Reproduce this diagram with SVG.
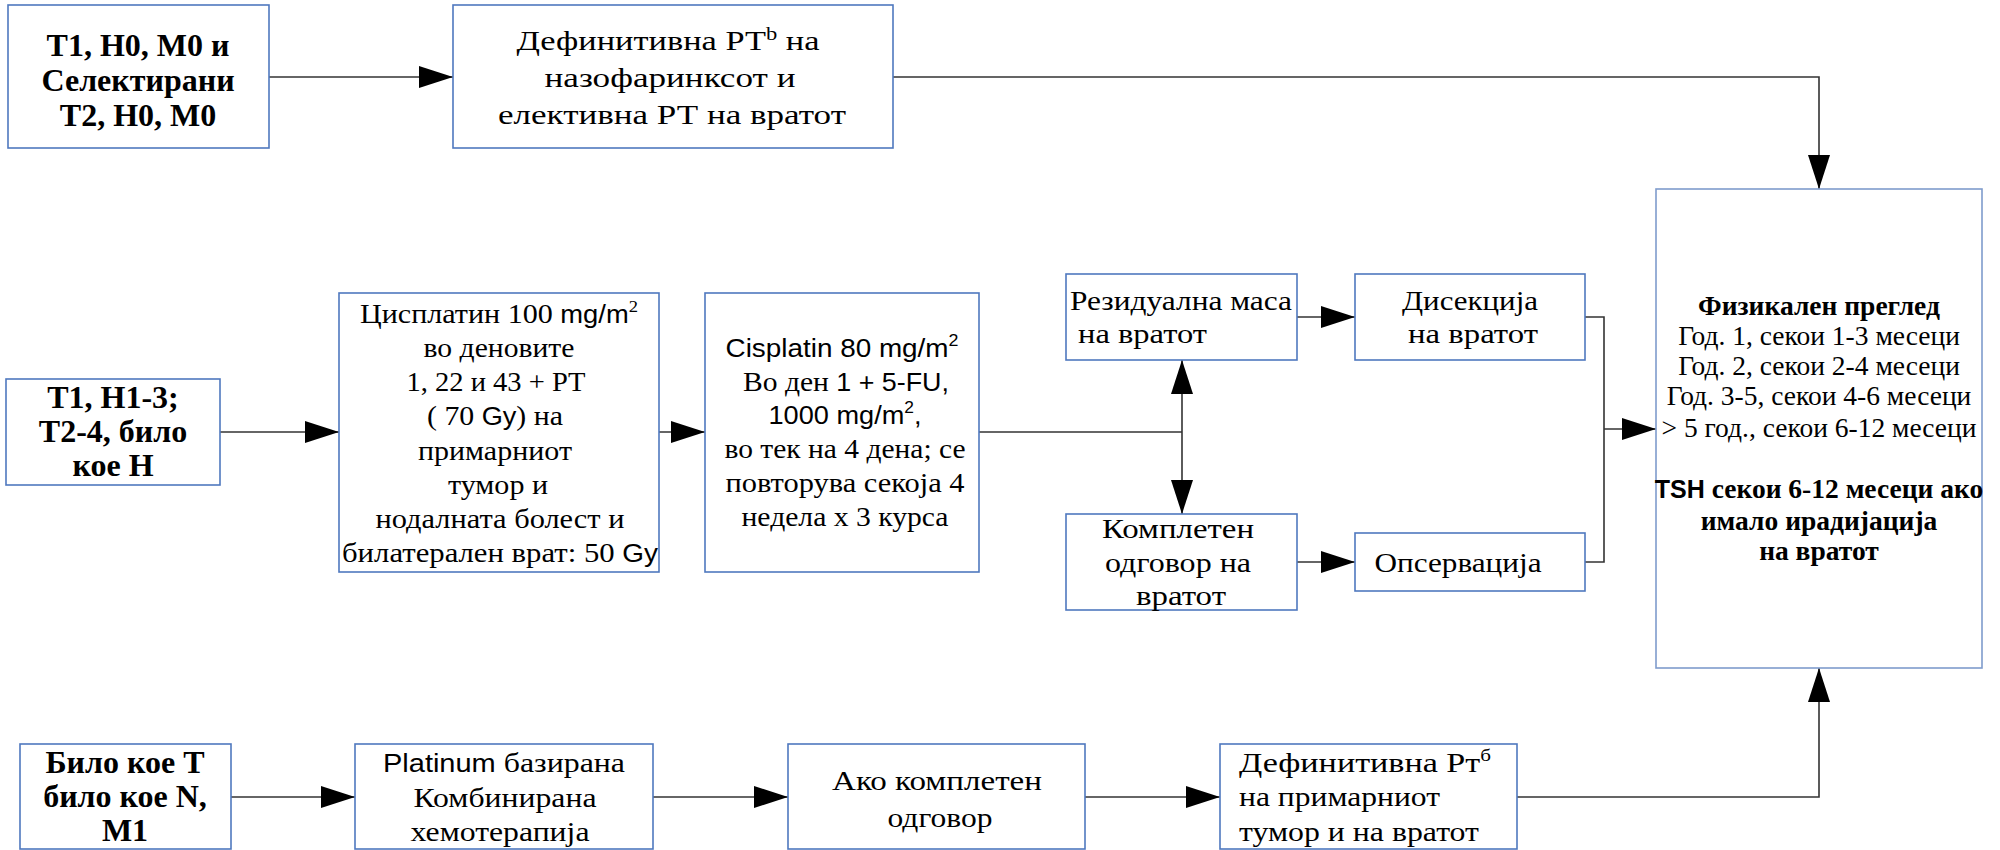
<svg xmlns="http://www.w3.org/2000/svg" width="2000" height="850" viewBox="0 0 2000 850">
<style>
.box{fill:#fff;stroke:#4f78bf;stroke-width:1.6}
.big{fill:#fff;stroke:#7f9ccc;stroke-width:1.6}
.ln{fill:none;stroke:#333;stroke-width:1.6}
text{fill:#000}
.c{text-anchor:middle}
.b{font-family:"Liberation Serif",serif;font-weight:bold;font-size:32px}
.s{font-family:"Liberation Sans",sans-serif;font-size:25px}
.m{font-family:"Liberation Serif",serif;font-size:27.5px}
</style>
<defs>
<marker id="ah" markerUnits="userSpaceOnUse" markerWidth="34" markerHeight="22" refX="34" refY="11" orient="auto">
<path d="M0,0 L34,11 L0,22 z" fill="#000"/>
</marker>
</defs>

<g id="connectors">
<path class="ln" d="M269,77 H453" marker-end="url(#ah)"/>
<path class="ln" d="M893,77 H1819 V189" marker-end="url(#ah)"/>
<path class="ln" d="M220,432 H339" marker-end="url(#ah)"/>
<path class="ln" d="M659,432 H705" marker-end="url(#ah)"/>
<path class="ln" d="M979,432 H1182"/>
<path class="ln" d="M1182,432 V360" marker-end="url(#ah)"/>
<path class="ln" d="M1182,432 V514" marker-end="url(#ah)"/>
<path class="ln" d="M1297,317 H1355" marker-end="url(#ah)"/>
<path class="ln" d="M1297,562 H1355" marker-end="url(#ah)"/>
<path class="ln" d="M1585,317 H1604 V562 H1585"/>
<path class="ln" d="M1604,429 H1656" marker-end="url(#ah)"/>
<path class="ln" d="M231,797 H355" marker-end="url(#ah)"/>
<path class="ln" d="M653,797 H788" marker-end="url(#ah)"/>
<path class="ln" d="M1085,797 H1220" marker-end="url(#ah)"/>
<path class="ln" d="M1517,797 H1819 V668" marker-end="url(#ah)"/>
</g>

<g id="n1">
<rect class="box" x="8" y="5" width="261" height="143"/>
<text class="c b" x="138" y="56">T1, H0, M0 и</text>
<text class="c b" x="138" y="91">Селектирани</text>
<text class="c b" x="138" y="126">T2, H0, M0</text>
</g>

<g id="n2">
<rect class="box" x="453" y="5" width="440" height="143"/>
<text class="c m" x="668" y="50" textLength="303" lengthAdjust="spacingAndGlyphs">Дефинитивна РТ<tspan font-size="18" dy="-10">b</tspan><tspan dy="10"> на</tspan></text>
<text class="c m" x="670" y="87" textLength="251" lengthAdjust="spacingAndGlyphs">назофаринксот и</text>
<text class="c m" x="672" y="124" textLength="348" lengthAdjust="spacingAndGlyphs">елективна РТ на вратот</text>
</g>

<g id="n3">
<rect class="box" x="6" y="379" width="214" height="106"/>
<text class="c b" x="113" y="408">T1, H1-3;</text>
<text class="c b" x="113" y="442">T2-4, било</text>
<text class="c b" x="113" y="476">кое H</text>
</g>

<g id="n4">
<rect class="box" x="339" y="293" width="320" height="279"/>
<text class="c m" x="499" y="323" textLength="278" lengthAdjust="spacingAndGlyphs">Цисплатин 100 <tspan class="s">mg/m</tspan><tspan font-size="17" dy="-11">2</tspan></text>
<text class="c m" x="499" y="357" textLength="151" lengthAdjust="spacingAndGlyphs">во деновите</text>
<text class="c m" x="496" y="391" textLength="179" lengthAdjust="spacingAndGlyphs">1, 22 и 43 + РТ</text>
<text class="c m" x="495" y="425" textLength="136" lengthAdjust="spacingAndGlyphs">( 70 <tspan class="s">Gy</tspan>) на</text>
<text class="c m" x="495" y="460" textLength="154" lengthAdjust="spacingAndGlyphs">примарниот</text>
<text class="c m" x="498" y="494" textLength="100" lengthAdjust="spacingAndGlyphs">тумор и</text>
<text class="c m" x="500" y="528" textLength="249" lengthAdjust="spacingAndGlyphs">нодалната болест и</text>
<text class="c m" x="500" y="562" textLength="316" lengthAdjust="spacingAndGlyphs">билатерален врат:  50 <tspan class="s">Gy</tspan></text>
</g>

<g id="n5">
<rect class="box" x="705" y="293" width="274" height="279"/>
<text class="c s" x="842" y="357" textLength="233" lengthAdjust="spacingAndGlyphs">Cisplatin 80 mg/m<tspan font-size="16" dy="-11">2</tspan></text>
<text class="c m" x="846" y="391" textLength="206" lengthAdjust="spacingAndGlyphs">Во ден <tspan class="s">1 + 5-FU,</tspan></text>
<text class="c s" x="845" y="424" textLength="153" lengthAdjust="spacingAndGlyphs">1000 mg/m<tspan font-size="16" dy="-11">2</tspan><tspan dy="11">,</tspan></text>
<text class="c m" x="845" y="458" textLength="241" lengthAdjust="spacingAndGlyphs">во тек на 4 дена; се</text>
<text class="c m" x="845" y="492" textLength="239" lengthAdjust="spacingAndGlyphs">повторува секоја 4</text>
<text class="c m" x="845" y="526" textLength="207" lengthAdjust="spacingAndGlyphs">недела x 3 курса</text>
</g>

<g id="n6">
<rect class="box" x="1066" y="274" width="231" height="86"/>
<text class="m" x="1070" y="310" textLength="222" lengthAdjust="spacingAndGlyphs">Резидуална маса</text>
<text class="m" x="1078" y="343" textLength="129" lengthAdjust="spacingAndGlyphs">на вратот</text>
</g>

<g id="n7">
<rect class="box" x="1355" y="274" width="230" height="86"/>
<text class="c m" x="1470" y="310" textLength="136" lengthAdjust="spacingAndGlyphs">Дисекција</text>
<text class="c m" x="1473" y="343" textLength="130" lengthAdjust="spacingAndGlyphs">на вратот</text>
</g>

<g id="n8">
<rect class="box" x="1066" y="514" width="231" height="96"/>
<text class="c m" x="1178" y="538" textLength="152" lengthAdjust="spacingAndGlyphs">Комплетен</text>
<text class="c m" x="1178" y="572" textLength="146" lengthAdjust="spacingAndGlyphs">одговор на</text>
<text class="c m" x="1181" y="605" textLength="90" lengthAdjust="spacingAndGlyphs">вратот</text>
</g>

<g id="n9">
<rect class="box" x="1355" y="533" width="230" height="58"/>
<text class="c m" x="1458" y="572" textLength="167" lengthAdjust="spacingAndGlyphs">Опсервација</text>
</g>

<g id="n10">
<rect class="big" x="1656" y="189" width="326" height="479"/>
<text class="c m" x="1819" y="315" font-weight="bold">Физикален преглед</text>
<text class="c m" x="1819" y="345">Год. 1, секои 1-3 месеци</text>
<text class="c m" x="1819" y="375">Год. 2, секои 2-4 месеци</text>
<text class="c m" x="1819" y="405">Год. 3-5, секои 4-6 месеци</text>
<text class="c m" x="1819" y="437">&gt; 5 год., секои 6-12 месеци</text>
<text class="c m" x="1819" y="498" font-weight="bold"><tspan class="s" font-size="26">TSH</tspan> секои 6-12 месеци ако</text>
<text class="c m" x="1819" y="530" font-weight="bold">имало ирадијација</text>
<text class="c m" x="1819" y="560" font-weight="bold">на вратот</text>
</g>

<g id="n11">
<rect class="box" x="20" y="744" width="211" height="105"/>
<text class="c b" x="125" y="773">Било кое T</text>
<text class="c b" x="125" y="807">било кое N,</text>
<text class="c b" x="125" y="841">M1</text>
</g>

<g id="n12">
<rect class="box" x="355" y="744" width="298" height="105"/>
<text class="c m" x="504" y="772" textLength="242" lengthAdjust="spacingAndGlyphs"><tspan class="s">Platinum</tspan> базирана</text>
<text class="c m" x="505" y="807" textLength="183" lengthAdjust="spacingAndGlyphs">Комбинирана</text>
<text class="c m" x="500" y="841" textLength="179" lengthAdjust="spacingAndGlyphs">хемотерапија</text>
</g>

<g id="n13">
<rect class="box" x="788" y="744" width="297" height="105"/>
<text class="c m" x="937" y="790" textLength="210" lengthAdjust="spacingAndGlyphs">Ако комплетен</text>
<text class="c m" x="940" y="827" textLength="105" lengthAdjust="spacingAndGlyphs">одговор</text>
</g>

<g id="n14">
<rect class="box" x="1220" y="744" width="297" height="105"/>
<text class="m" x="1239" y="772" textLength="252" lengthAdjust="spacingAndGlyphs">Дефинитивна Рт<tspan font-size="17" dy="-11">б</tspan></text>
<text class="m" x="1239" y="806" textLength="201" lengthAdjust="spacingAndGlyphs">на примарниот</text>
<text class="m" x="1239" y="841" textLength="240" lengthAdjust="spacingAndGlyphs">тумор и на вратот</text>
</g>
</svg>
